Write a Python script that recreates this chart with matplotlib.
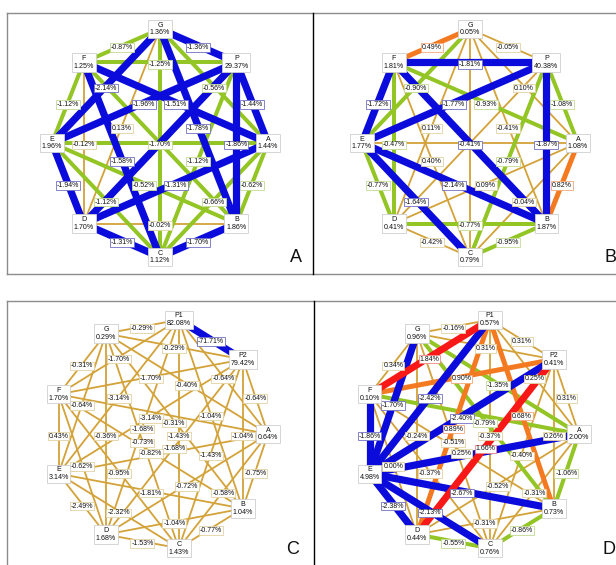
import matplotlib
matplotlib.use("Agg")
import matplotlib.pyplot as plt
import numpy as np

plt.rcParams['font.family'] = ['Liberation Sans', 'DejaVu Sans']

# ---------------- data ----------------
# Panel A
a_nodes = ["G", "P", "A", "B", "C", "D", "E", "F"]
a_values = [1.36, 29.37, 1.44, 1.86, 1.12, 1.70, 1.96, 1.25]
a_edges = [
    ("G", "P", -1.36, "blue"), ("G", "A", -0.56, "green"), ("G", "B", -1.78, "blue"),
    ("G", "C", None, "green"), ("G", "D", 0.13, "tan"), ("G", "E", -2.14, "blue"),
    ("G", "F", -0.87, "green"), ("P", "A", -1.44, "blue"), ("P", "B", -1.86, "blue"),
    ("P", "C", -1.12, "green"), ("P", "D", None, "blue"), ("P", "E", -1.96, "blue"),
    ("P", "F", -1.25, "green"), ("A", "B", -0.62, "green"), ("A", "C", -0.66, "green"),
    ("A", "D", -1.31, "blue"), ("A", "E", -1.70, "green"), ("A", "F", -1.51, "blue"),
    ("B", "C", -1.70, "blue"), ("B", "D", -0.02, "tan"), ("B", "E", -0.52, "green"),
    ("B", "F", None, "green"), ("C", "D", -1.31, "blue"), ("C", "E", -1.12, "green"),
    ("C", "F", -1.58, "blue"), ("D", "E", -1.94, "blue"), ("D", "F", -0.12, "tan"),
    ("E", "F", -1.12, "green"),
]

# Panel B
b_nodes = ["G", "P", "A", "B", "C", "D", "E", "F"]
b_values = [0.05, 40.38, 1.08, 1.87, 0.79, 0.41, 1.77, 1.81]
b_edges = [
    ("G", "P", -0.05, "tan"), ("G", "A", 0.10, "tan"), ("G", "B", -0.41, "tan"),
    ("G", "C", None, "tan"), ("G", "D", 0.11, "tan"), ("G", "E", -0.90, "green"),
    ("G", "F", 0.49, "orange"), ("P", "A", -1.08, "green"), ("P", "B", -1.87, "blue"),
    ("P", "C", -0.79, "green"), ("P", "D", None, "tan"), ("P", "E", -1.77, "blue"),
    ("P", "F", -1.81, "blue"), ("A", "B", 0.82, "orange"), ("A", "C", -0.04, "tan"),
    ("A", "D", 0.09, "tan"), ("A", "E", None, "tan"), ("A", "F", -0.93, "green"),
    ("B", "C", -0.95, "green"), ("B", "D", -0.77, "green"), ("B", "E", -2.14, "blue"),
    ("B", "F", -0.41, "blue"), ("C", "D", -0.42, "tan"), ("C", "E", -1.64, "blue"),
    ("C", "F", 0.40, "tan"), ("D", "E", -0.77, "green"), ("D", "F", -0.47, "green"),
    ("E", "F", -1.72, "blue"),
]

# Panel C
c_nodes = ["P1", "P2", "A", "B", "C", "D", "E", "F", "G"]
c_values = [82.08, 79.42, 0.64, 1.04, 1.43, 1.68, 3.14, 1.70, 0.29]
c_edges = [
    ("A", "E", None, "tan"), ("A", "F", None, "tan"),
    ("P1", "P2", -71.71, "blue"), ("P1", "A", -0.64, "tan"), ("P1", "B", -1.04, "tan"),
    ("P1", "C", -1.43, "tan"), ("P1", "D", -1.68, "tan"), ("P1", "E", -3.14, "tan"),
    ("P1", "F", -1.70, "tan"), ("P1", "G", -0.29, "tan"), ("P2", "A", -0.64, "tan"),
    ("P2", "B", -1.04, "tan"), ("P2", "C", -1.43, "tan"), ("P2", "D", -1.68, "tan"),
    ("P2", "E", -3.14, "tan"), ("P2", "F", -1.70, "tan"), ("P2", "G", -0.29, "tan"),
    ("A", "B", -0.75, "tan"), ("A", "C", -0.58, "tan"), ("A", "D", -0.72, "tan"),
    ("A", "G", -0.40, "tan"), ("B", "C", -0.77, "tan"), ("B", "D", -1.04, "tan"),
    ("B", "E", -1.81, "tan"), ("B", "F", -0.82, "tan"), ("B", "G", -0.31, "tan"),
    ("C", "D", -1.53, "tan"), ("C", "E", -2.32, "tan"), ("C", "F", -0.95, "tan"),
    ("C", "G", -0.73, "tan"), ("D", "E", -2.49, "tan"), ("D", "F", -0.62, "tan"),
    ("D", "G", -0.36, "tan"), ("E", "F", 0.43, "tan"), ("E", "G", -0.64, "tan"),
    ("F", "G", -0.31, "tan"),
]

# Panel D
d_nodes = ["P1", "P2", "A", "B", "C", "D", "E", "F", "G"]
d_values = [0.57, 0.41, 2.00, 0.73, 0.76, 0.44, 4.98, 0.10, 0.96]
d_edges = [
    ("A", "E", None, "blue"), ("A", "F", None, "green"),
    ("P1", "P2", 0.31, "tan"), ("P1", "A", 0.25, "tan"), ("P1", "B", 0.68, "orange"),
    ("P1", "C", -0.37, "tan"), ("P1", "D", 0.89, "orange"), ("P1", "E", -2.42, "blue"),
    ("P1", "F", 1.84, "red"), ("P1", "G", -0.16, "tan"), ("P2", "A", 0.31, "tan"),
    ("P2", "B", 0.26, "tan"), ("P2", "C", -0.40, "tan"), ("P2", "D", 1.66, "red"),
    ("P2", "E", -2.40, "blue"), ("P2", "F", 0.90, "orange"), ("P2", "G", 0.31, "tan"),
    ("A", "B", -1.06, "green"), ("A", "C", -0.31, "tan"), ("A", "D", -0.52, "tan"),
    ("A", "G", -1.35, "green"), ("B", "C", -0.86, "green"), ("B", "D", -0.31, "tan"),
    ("B", "E", -2.67, "blue"), ("B", "F", 0.25, "tan"), ("B", "G", -0.79, "green"),
    ("C", "D", -0.55, "green"), ("C", "E", -2.13, "blue"), ("C", "F", -0.37, "tan"),
    ("C", "G", -0.51, "tan"), ("D", "E", -2.38, "blue"), ("D", "F", 0.00, "tan"),
    ("D", "G", -0.24, "tan"), ("E", "F", -1.86, "blue"), ("E", "G", -1.70, "blue"),
    ("F", "G", 0.34, "tan"),
]

panel_letters = ["A", "B", "C", "D"]

# ---------------- style ----------------
COLORS = {"blue": "#0b0bdc", "green": "#93c524", "tan": "#d3a238",
          "orange": "#f47a22", "red": "#f81818"}
WIDTHS = {"blue": 5.2, "green": 2.9, "tan": 1.3, "orange": 3.6, "red": 5.0}
LABEL_EC = {"blue": "#7070c8", "green": "#c2dc92", "tan": "#e2d2a2",
            "orange": "#f2a878", "red": "#f08888"}
ZORD = {"tan": 1, "green": 2, "orange": 3, "blue": 4, "red": 5}

W, H = 616, 565
fig = plt.figure(figsize=(W / 100, H / 100), dpi=100)
ax = fig.add_axes([0, 0, 1, 1])
ax.set_xlim(0, W)
ax.set_ylim(H, 0)
ax.axis("off")


def fmt(v):
    return f"{v:.2f}%"


def draw_panel(nodes, values, edges, center, radius, start, letter, letter_pos):
    cx, cy = center
    rx, ry = radius
    n = len(nodes)
    step = 360.0 / n
    pos = {}
    for i, name in enumerate(nodes):
        th = np.deg2rad(start - i * step)
        pos[name] = (cx + rx * np.cos(th), cy - ry * np.sin(th))
    for u, v, val, kind in edges:
        (x1, y1), (x2, y2) = pos[u], pos[v]
        ax.plot([x1, x2], [y1, y2], color=COLORS[kind], lw=WIDTHS[kind],
                solid_capstyle="butt", zorder=ZORD[kind])
    for u, v, val, kind in edges:
        if val is None:
            continue
        (x1, y1), (x2, y2) = pos[u], pos[v]
        mx, my = (x1 + x2) / 2, (y1 + y2) / 2 + 2
        ax.text(mx, my, fmt(val), fontsize=5.0, ha="center", va="center",
                color="#111111", zorder=10,
                bbox=dict(boxstyle="square,pad=0.12", fc="white",
                          ec=LABEL_EC[kind], lw=0.6))
    for name, val in zip(nodes, values):
        x, y = pos[name]
        ax.text(x, y, f"{name}\n{fmt(val)}", fontsize=5.1, ha="center", va="center",
                linespacing=1.15, color="#111111", zorder=20,
                bbox=dict(boxstyle="square,pad=0.25", fc="white",
                          ec="#cfcfcf", lw=0.6))
    ax.text(letter_pos[0], letter_pos[1], letter, fontsize=13, ha="center",
            va="center", color="#111111", zorder=30)


# frames
gray = "#8c8c8c"
ax.plot([7, W], [13, 13], color=gray, lw=1.0, zorder=0)
ax.plot([7, W], [274, 274], color=gray, lw=1.0, zorder=0)
ax.plot([7, 7], [13, 274], color=gray, lw=1.0, zorder=0)
ax.plot([313, 313], [13, 274], color="black", lw=1.0, zorder=0)
ax.plot([7, W], [301, 301], color=gray, lw=1.0, zorder=0)
ax.plot([7, 7], [301, H], color=gray, lw=1.0, zorder=0)
ax.plot([314, 314], [301, H], color="black", lw=1.0, zorder=0)

draw_panel(a_nodes, a_values, a_edges, (160, 143), (108, 114), 90, panel_letters[0], (296, 257))
draw_panel(b_nodes, b_values, b_edges, (470, 143), (108, 114), 90, panel_letters[1], (610, 257))
draw_panel(c_nodes, c_values, c_edges, (160, 434), (108, 116), 80, panel_letters[2], (293, 549))
draw_panel(d_nodes, d_values, d_edges, (471, 434), (108, 116), 80, panel_letters[3], (609, 549))

fig.savefig("out.png", dpi=100)
